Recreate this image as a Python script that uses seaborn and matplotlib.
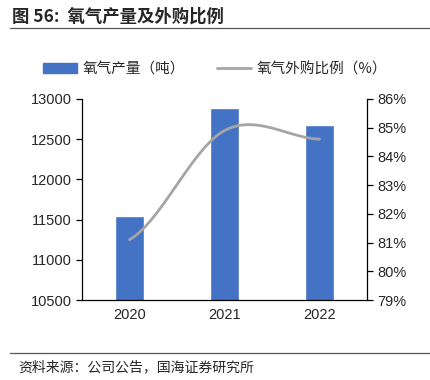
import numpy as np
import pandas as pd
import seaborn as sns
import matplotlib.pyplot as plt
from matplotlib.lines import Line2D
from matplotlib.patches import Patch
from matplotlib.ticker import FuncFormatter

# data
years = ["2020", "2021", "2022"]
output_tons = [11550, 12890, 12680]
purchase_pct = [81.1, 84.9, 84.6]

sns.set_style("white")
plt.rcParams['font.family'] = ['Liberation Sans', 'Noto Sans CJK SC', 'DejaVu Sans']
cjk = ['Noto Sans CJK SC', 'DejaVu Sans']

df = pd.DataFrame({"year": years, "tons": output_tons, "pct": purchase_pct})

fig = plt.figure(figsize=(4.3, 3.8), dpi=100)
ax = fig.add_axes([82 / 430, 1 - 300 / 380, 285 / 430, 201 / 380])

sns.barplot(data=df, x="year", y="tons", color="#4472C4", width=0.31,
            saturation=1, ax=ax)
ax.set_ylim(10500, 13000)
ax.set_yticks(np.arange(10500, 13001, 500))
ax.set_xlim(-0.5, 2.5)
ax.set_xlabel("")
ax.set_ylabel("")

# smooth line like Excel's smoothed series (Catmull-Rom through the points)
def smooth(xs, ys, n=40):
    xs = np.asarray(xs, float); ys = np.asarray(ys, float)
    px = np.concatenate([[2 * xs[0] - xs[1]], xs, [2 * xs[-1] - xs[-2]]])
    py = np.concatenate([[ys[0]], ys, [ys[-1]]])
    outx, outy = [], []
    for i in range(1, len(px) - 2):
        t = np.linspace(0, 1, n)
        for p, o in ((px, outx), (py, outy)):
            p0, p1, p2, p3 = p[i - 1], p[i], p[i + 1], p[i + 2]
            o.extend(0.5 * ((2 * p1) + (-p0 + p2) * t
                            + (2 * p0 - 5 * p1 + 4 * p2 - p3) * t ** 2
                            + (-p0 + 3 * p1 - 3 * p2 + p3) * t ** 3))
    return np.array(outx), np.array(outy)

ax2 = ax.twinx()
sx, sy = smooth(range(len(years)), purchase_pct)
sns.lineplot(x=sx, y=sy, sort=False, color="#A5A5A5", linewidth=2.0, ax=ax2)
ax2.set_ylim(79, 86)
ax2.set_yticks(range(79, 87))
ax2.yaxis.set_major_formatter(FuncFormatter(lambda v, p: f"{v:.0f}%"))

for a in (ax, ax2):
    for s in a.spines.values():
        s.set_visible(False)
ax.spines['left'].set_visible(True)
ax.spines['bottom'].set_visible(True)
ax2.spines['right'].set_visible(True)
for s in (ax.spines['left'], ax.spines['bottom'], ax2.spines['right']):
    s.set_color("black")
    s.set_linewidth(0.9)

ax.set_xticks([0.5, 1.5], minor=False)
ax.set_xticks([0, 1, 2], minor=True)
ax.set_xticklabels(["", ""])
ax.set_xticklabels(years, minor=True)
ax.tick_params(axis='x', which='major', length=4, width=0.9, direction='out', color='black')
ax.tick_params(axis='x', which='minor', length=0, pad=6, labelsize=10.5)
ax.tick_params(axis='y', length=4, width=0.9, direction='out', color='black', labelsize=10.5, left=True)
ax2.tick_params(axis='y', length=4, width=0.9, direction='out', color='black', labelsize=10.5, right=True)

# title and rules
fig.text(12 / 430, 1 - 17 / 380, "图 56:  氧气产量及外购比例", family=cjk,
         fontsize=12.5, fontweight='bold', va='center', ha='left')
fig.add_artist(Line2D([10 / 430, 1], [1 - 28 / 380] * 2, color="#555555", lw=0.9))
fig.add_artist(Line2D([10 / 430, 1], [1 - 353 / 380] * 2, color="#555555", lw=0.9))
fig.text(18 / 430, 1 - 367 / 380, "资料来源：公司公告，国海证券研究所", family=cjk,
         fontsize=10, va='center', ha='left')

handles = [Patch(color="#4472C4"), Line2D([0], [0], color="#A5A5A5", lw=2.0)]
fig.legend(handles, ["氧气产量（吨）", "氧气外购比例（%）"], loc='center',
           bbox_to_anchor=(0.5, 1 - 69 / 380), ncol=2, frameon=False,
           prop={'family': cjk, 'size': 10.5}, handlelength=2.3, handleheight=0.6,
           columnspacing=2.2, handletextpad=0.4)

fig.savefig("out.png", dpi=100)
